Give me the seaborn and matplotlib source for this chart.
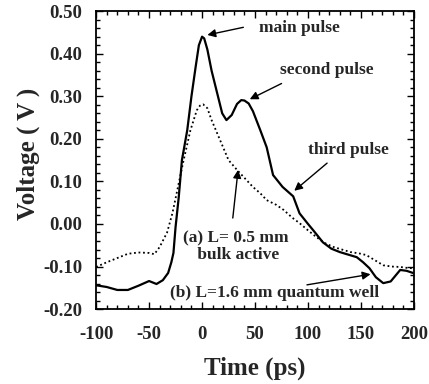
import numpy as np
import pandas as pd
import seaborn as sns
import matplotlib.pyplot as plt
from matplotlib.ticker import MultipleLocator

# (b) L=1.6 mm quantum well - solid
t_qw = [-100, -90, -80, -70, -60, -50, -43, -37, -32, -29, -27, -25, -22, -19,
        -14, -10, -6, -3, 0, 2, 5, 9, 14, 19, 23, 28, 33, 37, 40, 44, 48, 55,
        61, 67, 76, 86, 92, 100, 105, 114, 122, 130, 138, 146, 152, 158, 164,
        171, 178, 187, 193, 199]
v_qw = [-0.144, -0.148, -0.155, -0.155, -0.145, -0.134, -0.141, -0.132, -0.115,
        -0.09, -0.068, -0.007, 0.063, 0.15, 0.22, 0.30, 0.37, 0.42, 0.44, 0.436,
        0.41, 0.36, 0.31, 0.26, 0.244, 0.256, 0.282, 0.291, 0.29, 0.283, 0.265,
        0.22, 0.18, 0.115, 0.087, 0.065, 0.025, 0.0, -0.015, -0.043, -0.058,
        -0.066, -0.072, -0.078, -0.09, -0.104, -0.125, -0.139, -0.135, -0.108,
        -0.11, -0.115]

# (a) L=0.5 mm bulk active - dotted
t_bulk = [-100, -90, -80, -70, -60, -50, -45, -40, -33, -28, -24, -18, -11, -5,
          -2, 1, 5, 9, 17, 25, 33, 42, 48, 55, 61, 70, 77, 85, 92, 100, 108,
          116, 124, 132, 140, 148, 155, 163, 171, 179, 187, 193, 199]
v_bulk = [-0.101, -0.09, -0.08, -0.07, -0.067, -0.068, -0.071, -0.054, -0.02,
          0.025, 0.072, 0.143, 0.22, 0.267, 0.278, 0.281, 0.272, 0.244, 0.197,
          0.15, 0.127, 0.103, 0.087, 0.072, 0.056, 0.045, 0.033, 0.015, 0.002,
          -0.015, -0.031, -0.045, -0.054, -0.06, -0.066, -0.069, -0.073, -0.085,
          -0.097, -0.1, -0.101, -0.103, -0.104]

sns.set_theme(style="ticks")
plt.rcParams['font.family'] = ['Liberation Serif', 'DejaVu Serif']
plt.rcParams['font.weight'] = 'bold'
plt.rcParams['axes.unicode_minus'] = False

df_qw = pd.DataFrame({'t': t_qw, 'v': v_qw})
df_bulk = pd.DataFrame({'t': t_bulk, 'v': v_bulk})

fig = plt.figure(figsize=(4.29, 3.84), dpi=100)
ax = fig.add_axes([0.224, 0.195, 0.741, 0.776])

sns.lineplot(data=df_qw, x='t', y='v', ax=ax, color='black', linewidth=1.6)
sns.lineplot(data=df_bulk, x='t', y='v', ax=ax, color='black', linewidth=1.3,
             linestyle=(0, (1, 1.5)))

ax.set_xlim(-100, 200)
ax.set_ylim(-0.2, 0.5)
ax.xaxis.set_major_locator(MultipleLocator(50))
ax.xaxis.set_minor_locator(MultipleLocator(10))
ax.yaxis.set_major_locator(MultipleLocator(0.1))
ax.yaxis.set_minor_locator(MultipleLocator(0.02))
ax.yaxis.set_major_formatter(plt.FuncFormatter(lambda v, p: f"{v:.2f}"))
ax.tick_params(which='both', direction='in', top=True, right=True, width=1,
               color='black')
ax.tick_params(which='major', length=5, labelsize=13.5)
ax.tick_params(axis='x', which='major', pad=12)
ax.tick_params(axis='y', which='major', pad=10)
ax.tick_params(which='minor', length=3)
for lab in ax.get_xticklabels() + ax.get_yticklabels():
    lab.set_fontweight('bold')
for s in ax.spines.values():
    s.set_linewidth(1.3)
    s.set_color('black')

ax.set_xlabel('Time (ps)', fontsize=18, fontweight='bold')
ax.xaxis.set_label_coords(0.5, -0.16)
ax.set_ylabel('Voltage ( V )', fontsize=18, fontweight='bold')
ax.yaxis.set_label_coords(-0.178, 0.52)

arrow = dict(arrowstyle='-|>', color='black', lw=1, mutation_scale=12,
             shrinkA=0, shrinkB=0)
fs = 12.5
ax.text(92, 0.46, 'main pulse', fontsize=fs, fontweight='bold',
        va='center', ha='center')
ax.annotate('', xy=(5, 0.444), xytext=(39, 0.462), arrowprops=arrow)

ax.text(118, 0.361, 'second pulse', fontsize=fs, fontweight='bold',
        va='center', ha='center')
ax.annotate('', xy=(45, 0.293), xytext=(75, 0.33), arrowprops=arrow)

ax.text(138, 0.173, 'third pulse', fontsize=fs, fontweight='bold',
        va='center', ha='center')
ax.annotate('', xy=(87, 0.078), xytext=(118, 0.143), arrowprops=arrow)

ax.text(32, -0.054, '(a) L= 0.5 mm\n bulk active', fontsize=fs,
        fontweight='bold', va='center', ha='center', linespacing=1.05)
ax.annotate('', xy=(34, 0.127), xytext=(29, 0.014), arrowprops=arrow)

ax.text(68, -0.163, '(b) L=1.6 mm quantum well', fontsize=fs,
        fontweight='bold', va='center', ha='center')
ax.annotate('', xy=(159, -0.118), xytext=(99, -0.143), arrowprops=arrow)

fig.savefig('out.png', dpi=100)
